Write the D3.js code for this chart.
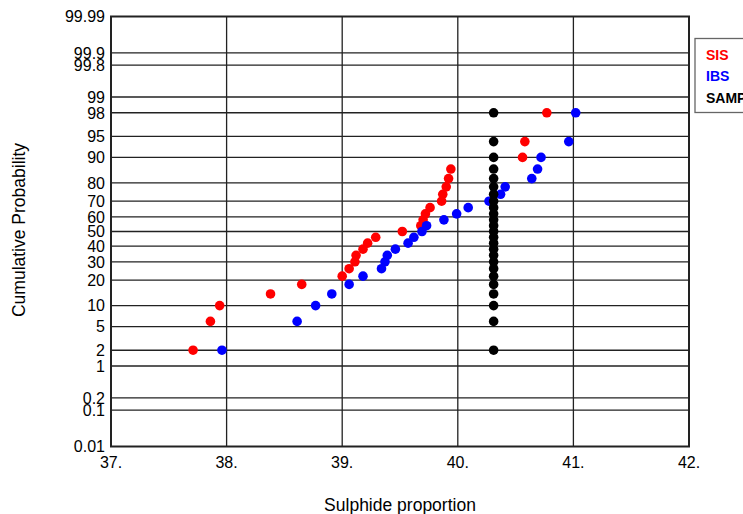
<!DOCTYPE html>
<html>
<head>
<meta charset="utf-8">
<script src="https://cdn.jsdelivr.net/npm/d3@7"></script>
<style>
  body { margin: 0; background: #fff; }
  svg { display: block; font-family: "Liberation Sans", Arial, sans-serif; }
</style>
</head>
<body>
<div id="chart"></div>
<script>
// Cumulative probability (%) of each ranked sample, (i - 0.5) / 25
var PROBS = [2, 6, 10, 14, 18, 22, 26, 30, 34, 38, 42, 46, 50,
             54, 58, 62, 66, 70, 74, 78, 82, 86, 90, 94, 98];

// Sorted sulphide proportions
var SIS = [37.71, 37.86, 37.94, 38.38, 38.65, 39.00, 39.06, 39.11, 39.12, 39.18,
           39.22, 39.29, 39.52, 39.68, 39.70, 39.72, 39.76, 39.86, 39.87, 39.90,
           39.92, 39.94, 40.56, 40.58, 40.77];
var IBS = [37.96, 38.61, 38.77, 38.91, 39.06, 39.18, 39.34, 39.37, 39.39, 39.46,
           39.57, 39.62, 39.69, 39.73, 39.88, 39.99, 40.09, 40.27, 40.37, 40.41,
           40.64, 40.69, 40.72, 40.96, 41.02];
var SAMPLE = [40.31, 40.31, 40.31, 40.31, 40.31, 40.31, 40.31, 40.31, 40.31, 40.31,
              40.31, 40.31, 40.31, 40.31, 40.31, 40.31, 40.31, 40.31, 40.31, 40.31,
              40.31, 40.31, 40.31, 40.31, 40.31];

var X_TICKS = [37, 38, 39, 40, 41, 42];
var Y_TICKS = [0.01, 0.1, 0.2, 1, 2, 5, 10, 20, 30, 40, 50, 60, 70, 80, 90, 95, 98, 99, 99.8, 99.9, 99.99];

var SERIES = [
  {name: 'SIS', values: SIS, color: '#ff0000'},
  {name: 'IBS', values: IBS, color: '#0000ff'},
  {name: 'SAMPLE', values: SAMPLE, color: '#000000'}
];

// inverse normal cdf (Acklam) for the probability axis
function probit(p) {
  var a = [-39.69683028665376, 220.9460984245205, -275.9285104469687, 138.3577518672690, -30.66479806614716, 2.506628277459239],
      b = [-54.47609879822406, 161.5858368580409, -155.6989798598866, 66.80131188771972, -13.28068155288572],
      c = [-0.007784894002430293, -0.3223964580411365, -2.400758277161838, -2.549732539343734, 4.374664141464968, 2.938163982698783],
      d = [0.007784695709041462, 0.3224671290700398, 2.445134137142996, 3.754408661907416];
  var q, r;
  if (p < 0.02425) {
    q = Math.sqrt(-2 * Math.log(p));
    return (((((c[0]*q+c[1])*q+c[2])*q+c[3])*q+c[4])*q+c[5]) / ((((d[0]*q+d[1])*q+d[2])*q+d[3])*q+1);
  } else if (p > 1 - 0.02425) {
    q = Math.sqrt(-2 * Math.log(1 - p));
    return -(((((c[0]*q+c[1])*q+c[2])*q+c[3])*q+c[4])*q+c[5]) / ((((d[0]*q+d[1])*q+d[2])*q+d[3])*q+1);
  }
  q = p - 0.5; r = q * q;
  return (((((a[0]*r+a[1])*r+a[2])*r+a[3])*r+a[4])*r+a[5])*q / (((((b[0]*r+b[1])*r+b[2])*r+b[3])*r+b[4])*r+1);
}

var W = 743, H = 514;
var margin = {top: 16.5, left: 111, right: 54, bottom: 67.5};

var svg = d3.select('#chart').append('svg')
    .attr('width', W)
    .attr('height', H);

var x = d3.scaleLinear().domain([37, 42]).range([margin.left, W - margin.right]);
var zScale = d3.scaleLinear()
    .domain([probit(0.0001), probit(0.9999)])
    .range([H - margin.bottom, margin.top]);
var y = function(pct) { return zScale(probit(pct / 100)); };

// grid
svg.append('g').selectAll('line')
  .data(Y_TICKS.slice(1, -1))
  .enter().append('line')
    .attr('x1', x(37)).attr('x2', x(42))
    .attr('y1', function(d) { return y(d); })
    .attr('y2', function(d) { return y(d); })
    .style('stroke', '#222').style('stroke-width', 1.3);

svg.append('g').selectAll('line')
  .data(X_TICKS.slice(1, -1))
  .enter().append('line')
    .attr('y1', y(0.01)).attr('y2', y(99.99))
    .attr('x1', function(d) { return x(d); })
    .attr('x2', function(d) { return x(d); })
    .style('stroke', '#222').style('stroke-width', 1.3);

// frame
svg.append('rect')
    .attr('x', x(37)).attr('y', y(99.99))
    .attr('width', x(42) - x(37))
    .attr('height', y(0.01) - y(99.99))
    .style('fill', 'none').style('stroke', '#222').style('stroke-width', 2);

// tick labels
svg.append('g').selectAll('text')
  .data(Y_TICKS)
  .enter().append('text')
    .attr('x', x(37) - 6)
    .attr('y', function(d) { return y(d); })
    .attr('dy', '0.36em')
    .attr('text-anchor', 'end')
    .style('font-size', '16px')
    .text(function(d) { return d; });

svg.append('g').selectAll('text')
  .data(X_TICKS)
  .enter().append('text')
    .attr('x', function(d) { return x(d); })
    .attr('y', 468)
    .attr('text-anchor', 'middle')
    .style('font-size', '16px')
    .text(function(d) { return d + '.'; });

// axis titles
svg.append('text')
    .attr('x', 400).attr('y', 511)
    .attr('text-anchor', 'middle')
    .style('font-size', '17.5px')
    .text('Sulphide proportion');

svg.append('text')
    .attr('transform', 'translate(25,230) rotate(-90)')
    .attr('text-anchor', 'middle')
    .style('font-size', '17.5px')
    .text('Cumulative Probability');

// points
SERIES.forEach(function(s) {
  svg.append('g').selectAll('circle')
    .data(s.values)
    .enter().append('circle')
      .attr('cx', function(d) { return x(d); })
      .attr('cy', function(d, i) { return y(PROBS[i]); })
      .attr('r', 4.8)
      .style('fill', s.color);
});

// legend
var legend = svg.append('g').attr('transform', 'translate(695,38.5)');
legend.append('rect')
    .attr('width', 80).attr('height', 74)
    .style('fill', '#fff').style('stroke', '#666').style('stroke-width', 1.3);
legend.selectAll('text')
  .data(SERIES)
  .enter().append('text')
    .attr('x', 11)
    .attr('y', function(d, i) { return 21.5 + i * 21.3; })
    .style('font-size', '14px')
    .style('font-weight', 'bold')
    .style('fill', function(d) { return d.color; })
    .text(function(d) { return d.name; });
</script>
</body>
</html>
